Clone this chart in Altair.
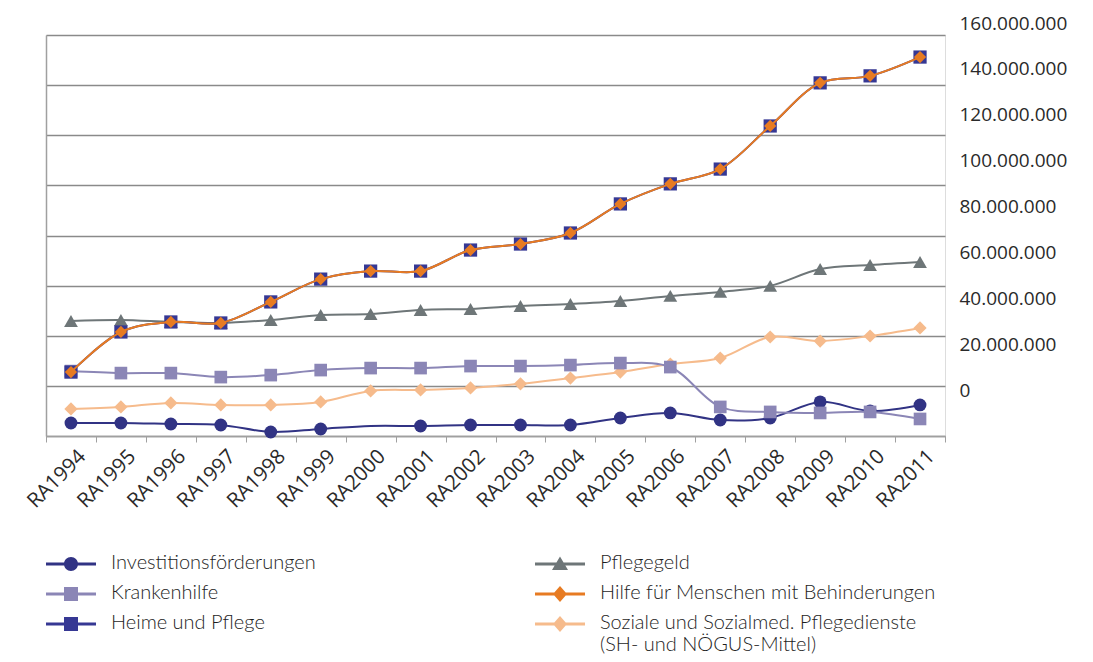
import altair as alt
import pandas as pd

# ---------------- data (values in million EUR) ----------------
years = ["RA1994", "RA1995", "RA1996", "RA1997", "RA1998", "RA1999", "RA2000", "RA2001", "RA2002",
         "RA2003", "RA2004", "RA2005", "RA2006", "RA2007", "RA2008", "RA2009", "RA2010", "RA2011"]

investitionen = [5.2, 5.2, 4.8, 4.4, 1.6, 2.8, 4.0, 4.0, 4.4, 4.4, 4.4, 7.2, 9.2, 6.4, 7.2, 13.6, 10.0, 12.4]
krankenhilfe = [25.9, 25.1, 25.1, 23.5, 24.3, 26.3, 27.1, 27.1, 27.9, 27.9, 28.3, 29.1, 27.5, 11.6, 9.6, 9.2, 9.6, 6.8]
heime = [25.5, 41.5, 45.5, 45.1, 53.5, 62.6, 65.8, 65.8, 74.2, 76.6, 81.0, 92.6, 100.6, 106.5, 123.7, 140.9, 143.7, 151.2]
pflegegeld = [45.9, 46.3, 45.5, 45.1, 46.3, 48.3, 48.7, 50.3, 50.7, 51.9, 52.7, 53.9, 55.9, 57.5, 59.9, 66.6, 68.2, 69.4]
hilfe = [25.5, 41.5, 45.5, 45.1, 53.5, 62.6, 65.8, 65.8, 74.2, 76.6, 81.0, 92.6, 100.6, 106.5, 123.7, 140.9, 143.7, 151.2]
soziale = [10.8, 11.6, 13.2, 12.4, 12.4, 13.6, 18.0, 18.4, 19.2, 20.8, 23.1, 25.5, 28.7, 31.1, 39.5, 37.9, 39.9, 43.1]

s_inv = "Investitionsförderungen"
s_kra = "Krankenhilfe"
s_hei = "Heime und Pflege"
s_pfl = "Pflegegeld"
s_hil = "Hilfe für Menschen mit Behinderungen"
s_soz = "Soziale und Sozialmed. Pflegedienste (SH- und NÖGUS-Mittel)"

series_values = {s_inv: investitionen, s_kra: krankenhilfe, s_hei: heime,
                 s_pfl: pflegegeld, s_hil: hilfe, s_soz: soziale}

axis_ticks = [0, 20e6, 40e6, 60e6, 80e6, 100e6, 120e6, 140e6, 160e6]

rows = []
for name, vals in series_values.items():
    for yr, v in zip(years, vals):
        rows.append({"year": yr, "series": name, "value": v * 1e6})
df = pd.DataFrame(rows)
ticks_df = pd.DataFrame({"v": axis_ticks})

# ---------------- styles ----------------
colors = {s_inv: "#313384", s_kra: "#8b86b6", s_hei: "#363894",
          s_pfl: "#6e7678", s_hil: "#e77b22", s_soz: "#f6bb8c"}
shapes = {s_inv: ("circle", 165), s_kra: ("square", 160), s_hei: ("square", 175),
          s_pfl: ("triangle-up", 190), s_hil: ("diamond", 150), s_soz: ("diamond", 175)}

# legend symbol paths, unit = 5px (symbolSize 100)
D = 2.2  # vertical shift of legend symbols in units


def legend_path(kind):
    line = f"M-5,{D-0.3:.2f}H5V{D+0.3:.2f}H-5Z"
    if kind == "circle":
        r = 1.4
        m = f"M{-r},{D}A{r},{r} 0 1,1 {r},{D}A{r},{r} 0 1,1 {-r},{D}Z"
    elif kind == "square":
        h = 1.4
        m = f"M{-h},{D-h:.2f}H{h}V{D+h:.2f}H{-h}Z"
    elif kind == "triangle":
        m = f"M0,{D-1.5:.2f}L1.6,{D+1.2:.2f}H-1.6Z"
    else:
        m = f"M0,{D-1.6:.2f}L1.4,{D}L0,{D+1.6:.2f}L-1.4,{D}Z"
    return line + m


# column-major legend: left column first, then right column
legend_order = [s_inv, s_kra, s_hei, s_pfl, s_hil, s_soz]
legend_kind = {s_inv: "circle", s_pfl: "triangle", s_kra: "square",
               s_hil: "diamond", s_hei: "square", s_soz: "diamond"}

xscale = alt.Scale(type="band", domain=years, paddingInner=0, paddingOuter=0)
xaxis = alt.Axis(title=None, labelAngle=315, labelFont="Open Sans", labelFontSize=20.5,
                 labelColor="#2a2a2a", labelPadding=4, labelOffset=4, tickBand="extent",
                 tickSize=6, tickColor="#a0a0a0", domainColor="#a0a0a0", domainWidth=1.5)
yscale = alt.Scale(domain=[0, 160e6], nice=False, zero=False)
yaxis = alt.Axis(title=None, orient="left", labels=False, ticks=False, domain=True,
                 domainColor="#a0a0a0", domainWidth=1.5, grid=True, gridColor="#8a8a8a",
                 gridWidth=1.5, values=axis_ticks)

X = alt.X("year:N", scale=xscale, axis=xaxis)
Y = alt.Y("value:Q", scale=yscale, axis=yaxis)

base = alt.Chart(df)
layers = []
for name in [s_soz, s_inv, s_pfl, s_kra, s_hei, s_hil]:
    sub = base.transform_filter(alt.datum.series == name)
    layers.append(sub.mark_line(color=colors[name], strokeWidth=2, interpolate="catmull-rom")
                  .encode(x=X, y=Y))
    pts = sub
    if name == s_inv:
        pts = sub.transform_filter(alt.datum.year != "RA2000")
    shp, sz = shapes[name]
    layers.append(pts.mark_point(shape=shp, size=sz, filled=True, opacity=1,
                                 color=colors[name]).encode(x=X, y=Y))

legend = alt.Legend(title=None, orient="none", legendX=15, legendY=508, columns=2,
                    columnPadding=219, rowPadding=0, symbolSize=100, symbolStrokeWidth=0,
                    symbolOpacity=1, labelFont="Lato", labelFontSize=20, labelFontWeight=300,
                    labelColor="#1e1e1e", labelOffset=30, labelBaseline="top", labelLimit=500,
                    padding=0,
                    labelExpr="indexof(datum.label, ' (') > 0 ? "
                              "[slice(datum.label, 0, indexof(datum.label, ' (')), "
                              "slice(datum.label, indexof(datum.label, ' (') + 1)] : datum.label")

legend_layer = base.transform_calculate(off="-1e12").mark_point(
    filled=True, opacity=1, clip=True
).encode(
    y=alt.Y("off:Q", scale=yscale, axis=yaxis),
    color=alt.Color("series:N", scale=alt.Scale(domain=legend_order,
                                                range=[colors[s] for s in legend_order]),
                    legend=legend),
    shape=alt.Shape("series:N", scale=alt.Scale(domain=legend_order,
                                                range=[legend_path(legend_kind[s]) for s in legend_order]),
                    legend=legend),
)

main = alt.layer(*layers, legend_layer)

right_axis = alt.Chart(ticks_df).mark_point(opacity=0).encode(
    y=alt.Y("v:Q", scale=alt.Scale(domain=[0, 160e6], range=[355, -12], nice=False, zero=False),
            axis=alt.Axis(title=None, orient="right", values=axis_ticks, grid=False, domain=False,
                          ticks=False, labelPadding=14, labelFont="Open Sans", labelFontSize=19,
                          labelColor="#2a2a2a", labelAlign="left", labelBaseline="middle",
                          labelExpr="replace(replace(format(datum.value, ','), ',', '.'), ',', '.')"))
)

chart = alt.layer(main, right_axis).resolve_scale(y="independent").properties(
    width=899, height=401,
    autosize=alt.AutoSizeParams(type="none"),
    padding={"left": 38, "top": 27, "right": 140, "bottom": 218},
).configure_view(stroke=None).configure(background="white")

chart.save("out.html", embed_options={"renderer": "svg", "actions": False})
